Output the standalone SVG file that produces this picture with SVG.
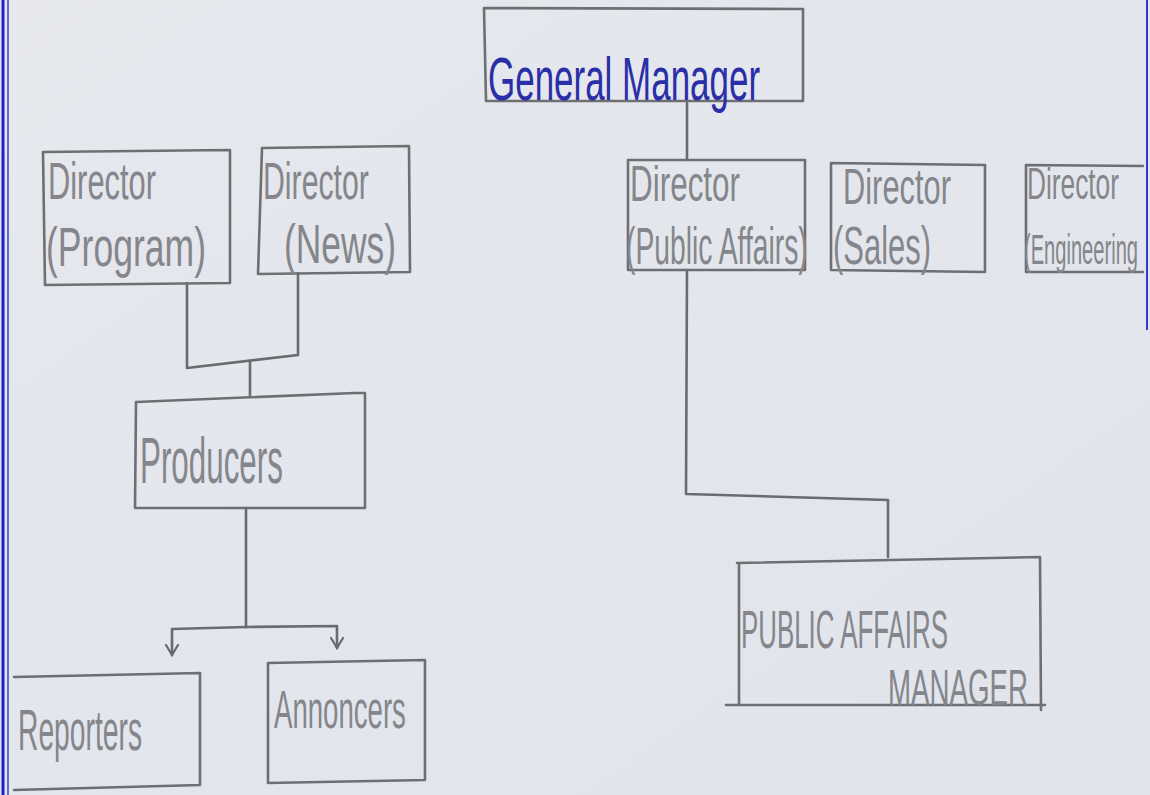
<svg xmlns="http://www.w3.org/2000/svg" width="1150" height="795" viewBox="0 0 1150 795">
<style>
.box{fill:none;stroke:#6e6f73;stroke-width:2.6;stroke-linecap:round;stroke-linejoin:round}
.ln{fill:none;stroke:#6a6b6f;stroke-width:2.6;stroke-linecap:round;stroke-linejoin:round}
.t{font-family:"Liberation Sans",Arial,sans-serif;fill:#85868b;font-weight:normal}
.gm{font-family:"Liberation Sans",Arial,sans-serif;fill:#2a2fa8}
</style>
<defs>
<marker id="v" viewBox="0 0 14 14" refX="12" refY="7" markerWidth="14" markerHeight="14" markerUnits="userSpaceOnUse" orient="auto">
<path d="M2 1 L12 7 L2 13" fill="none" stroke="#6a6b6f" stroke-width="2.2" stroke-linecap="round"/>
</marker>
<linearGradient id="bg" x1="0" y1="0" x2="1" y2="1">
<stop offset="0" stop-color="#e6e8ee"/>
<stop offset="0.5" stop-color="#e3e6ec"/>
<stop offset="1" stop-color="#e1e4ea"/>
</linearGradient>
</defs>
<rect x="0" y="0" width="1150" height="795" fill="url(#bg)"/>
<g id="page-edges">
<line x1="3" y1="0" x2="3" y2="795" stroke="#1c20c8" stroke-width="3"/>
<line x1="8" y1="0" x2="8" y2="795" stroke="#3a3fd0" stroke-width="1.5"/>
<line x1="1147" y1="0" x2="1147" y2="330" stroke="#3338c8" stroke-width="2"/>
</g>

<g id="connectors">
<path class="ln" d="M687 103 L687 160"/>
<path class="ln" d="M187 283 L187 368 L298 355 L298 273"/>
<path class="ln" d="M250 362 L250 396"/>
<path class="ln" d="M246 508 L246 627"/>
<path class="ln" d="M246 627 L172 629 L172 655" marker-end="url(#v)"/>
<path class="ln" d="M246 627 L337 626 L337 648" marker-end="url(#v)"/>
<path class="ln" d="M687 270 L686 494 L888 500 L888 557"/>
</g>

<g id="general-manager">
<path class="box" d="M484 8 L803 9 L803 101 L486 101 Z"/>
<text class="gm" font-size="62" transform="translate(488,100) scale(0.564,1)">General Manager</text>
</g>

<g id="director-program">
<path class="box" d="M43 152 L230 150 L230 283 L45 285 Z"/>
<text class="t" font-size="52" transform="translate(48,199) scale(0.593,1)">Director</text>
<text class="t" font-size="56" transform="translate(46,266) scale(0.635,1)">(Program)</text>
</g>

<g id="director-news">
<path class="box" d="M262 148 L409 146 L410 272 L258 274 Z"/>
<text class="t" font-size="52" transform="translate(263,199) scale(0.582,1)">Director</text>
<text class="t" font-size="56" transform="translate(284,263) scale(0.632,1)">(News)</text>
</g>

<g id="producers">
<path class="box" d="M136 402 L355 393 L365 393 L365 508 L135 508 Z"/>
<text class="t" font-size="64" transform="translate(140,483) scale(0.49,1)">Producers</text>
</g>

<g id="reporters">
<path class="box" d="M14 677 L200 673 L200 785 L14 790"/>
<text class="t" font-size="58" transform="translate(18,750) scale(0.487,1)">Reporters</text>
</g>

<g id="annoncers">
<path class="box" d="M268 663 L425 660 L425 780 L268 783 Z"/>
<text class="t" font-size="54" transform="translate(274,728) scale(0.511,1)">Annoncers</text>
</g>

<g id="director-public-affairs">
<path class="box" d="M628 160 L805 160 L805 270 L628 270 Z"/>
<text class="t" font-size="50" transform="translate(630,201) scale(0.629,1)">Director</text>
<text class="t" font-size="52" transform="translate(626,264) scale(0.544,1)">(Public Affairs)</text>
</g>

<g id="director-sales">
<path class="box" d="M831 163 L985 165 L985 272 L831 270 Z"/>
<text class="t" font-size="50" transform="translate(843,204) scale(0.617,1)">Director</text>
<text class="t" font-size="54" transform="translate(833,264) scale(0.573,1)">(Sales)</text>
</g>

<g id="director-engineering">
<path class="box" d="M1143 166 L1026 165 L1026 272 L1143 272"/>
<text class="t" font-size="44" transform="translate(1027,199) scale(0.597,1)">Director</text>
<text class="t" font-size="42" transform="translate(1024,264) scale(0.479,1)">(Engineering</text>
</g>

<g id="public-affairs-manager">
<path class="box" d="M737 563 L1040 557 L1041 710 M726 705 L1045 705 M739 563 L739 705"/>
<text class="t" font-size="54" transform="translate(741,648) scale(0.479,1)">PUBLIC AFFAIRS</text>
<text class="t" font-size="50" transform="translate(888,705) scale(0.554,1)">MANAGER</text>
</g>
</svg>
